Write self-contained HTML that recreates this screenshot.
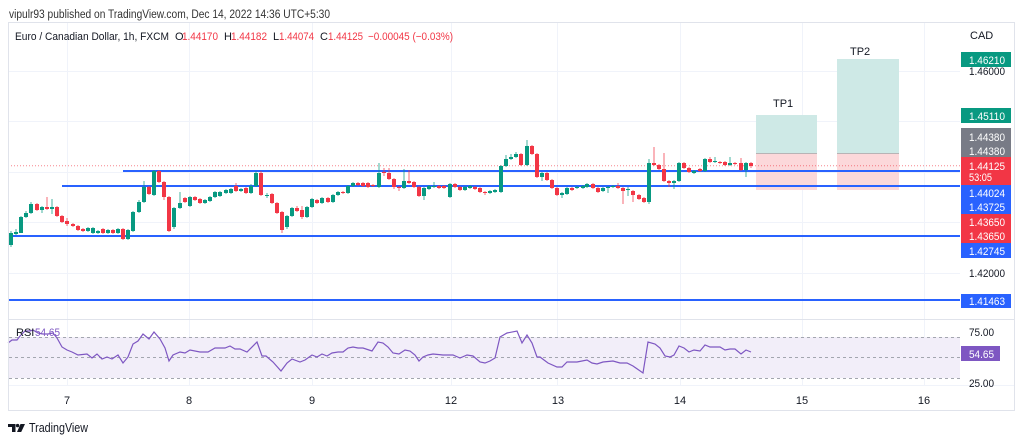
<!DOCTYPE html>
<html><head><meta charset="utf-8"><style>
html,body{margin:0;padding:0;background:#fff;}
svg{display:block;}
text{font-family:"Liberation Sans",sans-serif;}
</style></head><body>
<svg width="1024" height="442" viewBox="0 0 1024 442" xmlns="http://www.w3.org/2000/svg">
<rect width="1024" height="442" fill="#fff"/>
<text x="9" y="18" font-size="11.5" fill="#333" textLength="321" lengthAdjust="spacingAndGlyphs">vipulr93 published on TradingView.com, Dec 14, 2022 14:36 UTC+5:30</text>

<!-- grid -->
<g stroke="#f0f3fa" stroke-width="1">
<path d="M8 71.5H960M8 121.5H960M8 172.5H960M8 222.5H960M8 273.5H960"/>
<path d="M67.5 23V385M189.5 23V385M312.5 23V385M451.5 23V385M557.5 23V385M680.5 23V385M802.5 23V385M924.5 23V385"/>
<path d="M8 385.5H1015"/>
</g>

<!-- legend -->
<g font-size="11">
<text x="15" y="40" fill="#131722" textLength="154" lengthAdjust="spacingAndGlyphs">Euro / Canadian Dollar, 1h, FXCM</text>
<text x="175" y="40" fill="#131722">O</text><text x="182" y="40" fill="#f23645" textLength="36" lengthAdjust="spacingAndGlyphs">1.44170</text>
<text x="224" y="40" fill="#131722">H</text><text x="231" y="40" fill="#f23645" textLength="36" lengthAdjust="spacingAndGlyphs">1.44182</text>
<text x="273" y="40" fill="#131722">L</text><text x="279" y="40" fill="#f23645" textLength="35" lengthAdjust="spacingAndGlyphs">1.44074</text>
<text x="320" y="40" fill="#131722">C</text><text x="328" y="40" fill="#f23645" textLength="35" lengthAdjust="spacingAndGlyphs">1.44125</text>
<text x="368" y="40" fill="#f23645" textLength="85" lengthAdjust="spacingAndGlyphs">−0.00045 (−0.03%)</text>
</g>

<!-- TP boxes -->
<rect x="756" y="115" width="61" height="38" fill="#cee9e6"/>
<rect x="756" y="153" width="61" height="37" fill="#fcd8da"/>
<rect x="837" y="59" width="62" height="94" fill="#cee9e6"/>
<rect x="837" y="153" width="62" height="37" fill="#fcd8da"/>
<path d="M756 153.5H817M837 153.5H899" stroke="#b8b3b5" stroke-width="1"/>
<text x="773" y="107" font-size="11" fill="#131722">TP1</text>
<text x="850" y="55" font-size="11" fill="#131722">TP2</text>

<!-- horizontal lines -->
<path d="M8 165.7H960" stroke="#f23645" stroke-width="1" stroke-dasharray="1 2" opacity="0.6"/>
<g stroke="#2962ff" stroke-width="2">
<path d="M123 171H960"/>
<path d="M62 186H960"/>
<path d="M8 236H960"/>
<path d="M8 300H960"/>
</g>

<!-- wicks -->
<path stroke="#089981" stroke-width="1" opacity="0.75" fill="none" d="M11 231V247M16 229V235M21 216V233M26 211V218M31 202V214M42 206V213M52 199V214M88 227V232M93 227V234M98 230V234M108 229V234M118 228V234M128 229V240M133 211V232M139 200V213M144 181V203M154 170V196M174 207V229M180 192V209M190 196V207M205 199V204M210 196V202M215 191V198M220 191V197M226 189V194M231 188V194M241 188V192M251 184V194M256 171V187M267 193V198M287 215V229M292 207V217M307 206V218M312 198V208M322 197V204M333 194V203M338 191V196M348 185V194M353 182V187M379 163V188M404 169V189M424 187V200M429 185V190M434 182V188M450 183V198M465 186V191M470 185V189M490 190V194M495 189V193M501 165V193M506 155V167M511 154V160M516 152V158M527 140V166M542 172V181M562 192V198M567 187V195M577 186V189M583 185V189M587 183V188M603 187V192M608 186V193M613 185V188M628 187V196M649 159V204M674 180V189M679 162V182M694 170V174M705 158V172M715 157V163M730 157V166M746 162V177"/>
<path stroke="#f23645" stroke-width="1" opacity="0.75" fill="none" d="M37 203V211M47 197V210M57 206V217M62 215V223M67 218V226M73 223V227M78 225V231M83 228V232M103 228V234M113 229V234M123 228V240M149 186V195M159 170V183M164 181V200M169 196V232M185 197V203M195 196V201M200 198V204M236 183V192M246 187V194M261 171V196M272 193V204M277 202V214M282 211V233M297 206V212M302 206V219M317 199V204M328 197V203M343 191V194M358 182V186M363 182V187M368 182V188M373 184V187M384 168V176M389 168V180M394 178V189M399 186V191M409 170V184M414 181V188M419 186V197M439 185V189M444 185V189M455 183V188M460 186V191M475 186V190M480 187V193M485 191V195M521 153V166M532 145V155M537 153V178M547 172V181M552 179V189M557 187V196M572 187V191M593 183V189M598 187V193M618 183V189M623 187V204M633 190V202M639 194V200M644 197V203M654 147V166M659 164V170M664 153V182M669 180V187M684 162V169M689 167V173M700 168V172M710 157V163M720 161V164M725 161V166M735 162V165M741 158V171M751 162V168"/>

<!-- bodies -->
<path fill="#089981" d="M9 233h4v12h-4zM14 232h4v2h-4zM19 217h4v16h-4zM24 213h4v4h-4zM29 204h4v9h-4zM40 207h4v3h-4zM50 207h4v2h-4zM86 228h4v3h-4zM91 228h4v5h-4zM96 231h4v2h-4zM106 230h4v3h-4zM116 229h4v4h-4zM126 230h4v9h-4zM131 212h4v19h-4zM137 202h4v10h-4zM142 187h4v15h-4zM152 171h4v24h-4zM172 208h4v19h-4zM178 203h4v5h-4zM188 197h4v9h-4zM203 200h4v3h-4zM208 197h4v4h-4zM213 192h4v5h-4zM218 192h4v4h-4zM224 190h4v3h-4zM229 189h4v4h-4zM239 189h4v2h-4zM249 186h4v7h-4zM254 173h4v13h-4zM265 195h4v1h-4zM285 216h4v11h-4zM290 208h4v8h-4zM305 207h4v10h-4zM310 199h4v8h-4zM320 198h4v5h-4zM331 195h4v7h-4zM336 192h4v3h-4zM346 186h4v7h-4zM351 183h4v3h-4zM377 173h4v14h-4zM402 181h4v7h-4zM422 188h4v8h-4zM427 186h4v3h-4zM432 186h4v1h-4zM448 184h4v13h-4zM463 187h4v3h-4zM468 186h4v2h-4zM488 191h4v2h-4zM493 190h4v2h-4zM499 166h4v26h-4zM504 159h4v7h-4zM509 157h4v2h-4zM514 154h4v3h-4zM525 146h4v19h-4zM540 173h4v4h-4zM560 193h4v2h-4zM565 188h4v6h-4zM575 187h4v1h-4zM581 186h4v2h-4zM585 184h4v3h-4zM601 188h4v3h-4zM606 187h4v1h-4zM611 186h4v1h-4zM626 189h4v1h-4zM647 163h4v39h-4zM672 181h4v2h-4zM677 163h4v18h-4zM692 171h4v2h-4zM703 159h4v12h-4zM713 161h4v1h-4zM728 163h4v2h-4zM744 163h4v7h-4z"/>
<path fill="#f23645" d="M35 204h4v6h-4zM45 207h4v2h-4zM55 207h4v9h-4zM60 216h4v6h-4zM65 221h4v3h-4zM71 224h4v2h-4zM76 226h4v4h-4zM81 229h4v2h-4zM101 229h4v4h-4zM111 230h4v3h-4zM121 229h4v10h-4zM147 187h4v7h-4zM157 171h4v11h-4zM162 182h4v15h-4zM167 197h4v34h-4zM183 198h4v4h-4zM193 197h4v3h-4zM198 199h4v4h-4zM234 186h4v5h-4zM244 188h4v5h-4zM259 173h4v22h-4zM270 194h4v9h-4zM275 203h4v10h-4zM280 212h4v18h-4zM295 208h4v3h-4zM300 210h4v7h-4zM315 200h4v3h-4zM326 198h4v4h-4zM341 192h4v1h-4zM356 183h4v2h-4zM361 183h4v3h-4zM366 183h4v4h-4zM371 185h4v1h-4zM382 172h4v1h-4zM387 173h4v6h-4zM392 179h4v8h-4zM397 187h4v1h-4zM407 181h4v2h-4zM412 182h4v5h-4zM417 187h4v9h-4zM437 186h4v2h-4zM442 186h4v2h-4zM453 184h4v3h-4zM458 187h4v3h-4zM473 187h4v2h-4zM478 188h4v4h-4zM483 192h4v1h-4zM519 154h4v11h-4zM530 146h4v8h-4zM535 154h4v23h-4zM545 173h4v7h-4zM550 180h4v8h-4zM555 188h4v7h-4zM570 188h4v2h-4zM591 184h4v4h-4zM596 188h4v4h-4zM616 186h4v2h-4zM621 188h4v3h-4zM631 191h4v4h-4zM637 195h4v4h-4zM642 198h4v4h-4zM652 163h4v2h-4zM657 165h4v4h-4zM662 169h4v12h-4zM667 181h4v2h-4zM682 163h4v5h-4zM687 168h4v4h-4zM698 169h4v2h-4zM708 159h4v3h-4zM718 162h4v1h-4zM723 162h4v3h-4zM733 163h4v1h-4zM739 163h4v7h-4zM749 163h4v3h-4z"/>

<!-- pane separator -->
<path d="M8 319.5H1015" stroke="#e0e3eb" stroke-width="1"/>

<!-- RSI -->
<rect x="9" y="337" width="951" height="41" fill="#f2eef9"/>
<g stroke="#a3a6af" stroke-width="1" stroke-dasharray="3 3">
<path d="M9 337.5H960M9 357.5H960M9 378.5H960"/>
</g>
<polyline fill="none" stroke="#7e57c2" stroke-width="1.2" points="8,343 12,340 17,340 20,336 25,331 30,331 33,330 38,333 43,334 48,334 53,333 57,338 62,347 67,350 72,352 78,355 87,354 92,358 97,354 102,359 107,357 112,359 118,355 123,363 128,357 133,344 138,341 143,334 149,339 154,332 160,339 165,348 169,361 173,355 180,352 185,353 190,350 200,352 208,352 215,348 225,348 230,346 235,349 240,349 247,352 257,342 262,356 266,356 273,362 281,371 287,363 292,359 300,362 305,360 312,355 317,357 322,354 327,356 332,353 338,352 343,352 348,348 353,347 358,348 363,348 372,351 378,342 383,343 388,347 393,353 399,354 405,350 410,351 415,355 419,361 423,357 428,355 433,354 443,355 453,355 460,358 467,355 473,356 480,362 485,363 490,361 495,358 500,337 507,333 517,331 522,343 527,335 532,343 537,357 540,357 548,363 557,367 562,367 567,362 577,362 587,360 592,363 597,364 603,362 613,361 620,363 627,363 633,366 643,373 648,342 655,344 660,348 665,356 670,357 674,355 679,346 684,348 689,352 694,350 700,351 705,345 710,347 715,347 720,347 725,350 730,349 735,349 741,354 746,350 751,352"/>
<text x="16" y="336" font-size="11" fill="#131722">RSI</text>
<text x="35" y="336" font-size="11" fill="#7e57c2" textLength="25" lengthAdjust="spacingAndGlyphs">54.65</text>

<!-- frame -->
<rect x="8.5" y="22.5" width="1006" height="388" fill="none" stroke="#e0e3eb" stroke-width="1"/>

<!-- price axis -->
<g font-size="11" fill="#131722">
<text x="970" y="39">CAD</text>
<text x="969" y="75" textLength="36" lengthAdjust="spacingAndGlyphs">1.46000</text>
<text x="969" y="277" textLength="36" lengthAdjust="spacingAndGlyphs">1.42000</text>
<text x="969" y="336" textLength="25" lengthAdjust="spacingAndGlyphs">75.00</text>
<text x="969" y="387" textLength="25" lengthAdjust="spacingAndGlyphs">25.00</text>
</g>
<rect x="961" y="52" width="50" height="15" fill="#089981"/>
<rect x="961" y="108" width="50" height="15" fill="#089981"/>
<rect x="961" y="128" width="50" height="29" fill="#787b86"/>
<rect x="961" y="157" width="50" height="28" fill="#f23645"/>
<rect x="961" y="185" width="50" height="29" fill="#2962ff"/>
<rect x="961" y="214" width="50" height="29" fill="#f23645"/>
<rect x="961" y="243" width="50" height="15" fill="#2962ff"/>
<rect x="961" y="294" width="50" height="14" fill="#2962ff"/>
<rect x="961" y="346" width="39" height="15" fill="#7e57c2"/>
<g font-size="11" fill="#fff">
<text x="969" y="64" textLength="36" lengthAdjust="spacingAndGlyphs">1.46210</text>
<text x="969" y="120" textLength="36" lengthAdjust="spacingAndGlyphs">1.45110</text>
<text x="969" y="141" textLength="36" lengthAdjust="spacingAndGlyphs">1.44380</text>
<text x="969" y="155" textLength="36" lengthAdjust="spacingAndGlyphs">1.44380</text>
<text x="969" y="170" textLength="36" lengthAdjust="spacingAndGlyphs">1.44125</text>
<text x="969" y="181" textLength="23" lengthAdjust="spacingAndGlyphs">53:05</text>
<text x="969" y="197" textLength="36" lengthAdjust="spacingAndGlyphs">1.44024</text>
<text x="969" y="211" textLength="36" lengthAdjust="spacingAndGlyphs">1.43725</text>
<text x="969" y="226" textLength="36" lengthAdjust="spacingAndGlyphs">1.43650</text>
<text x="969" y="240" textLength="36" lengthAdjust="spacingAndGlyphs">1.43650</text>
<text x="969" y="255" textLength="36" lengthAdjust="spacingAndGlyphs">1.42745</text>
<text x="969" y="305" textLength="36" lengthAdjust="spacingAndGlyphs">1.41463</text>
<text x="969" y="358" textLength="25" lengthAdjust="spacingAndGlyphs">54.65</text>
</g>

<!-- time axis -->
<g font-size="11" fill="#131722" text-anchor="middle">
<text x="67" y="404">7</text>
<text x="189" y="404">8</text>
<text x="312" y="404">9</text>
<text x="451" y="404">12</text>
<text x="558" y="404">13</text>
<text x="680" y="404">14</text>
<text x="802" y="404">15</text>
<text x="924" y="404">16</text>
</g>

<!-- logo -->
<g fill="#131722">
<path d="M8 424h7.5v8h-3.5v-5H8z"/>
<circle cx="17.6" cy="425.6" r="1.7"/>
<path d="M20.5 424h4.5l-3.8 8h-4.2z"/>
</g>
<text x="29" y="432" font-size="13" fill="#131722" textLength="59" lengthAdjust="spacingAndGlyphs">TradingView</text>
</svg>
</body></html>
